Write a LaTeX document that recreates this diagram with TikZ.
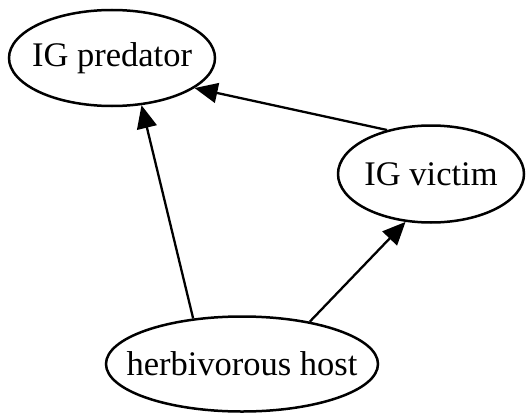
\documentclass[tikz,border=0pt]{standalone}
\usepackage{fontspec}
\setmainfont{Liberation Serif}
\usetikzlibrary{shapes.geometric,arrows.meta}
\begin{document}
\begin{tikzpicture}[x=1pt,y=1pt,
  ell/.style={draw,ellipse,line width=2.5pt,inner sep=0pt},
  lbl/.style={inner sep=0pt,font=\fontsize{34.5}{38}\selectfont},
  conn/.style={line width=2.3pt,-{Triangle[length=23pt,width=20pt]}}]
\useasboundingbox (0,0) rectangle (526,413);
\node[ell,minimum width=206pt,minimum height=96pt] (pred) at (112,355) {};
\node[ell,minimum width=186pt,minimum height=97pt] (vict) at (431,239) {};
\node[ell,minimum width=272pt,minimum height=95pt] (host) at (242,49) {};
\node[lbl] (predt) at (pred) {IG predator};
\node[lbl] (victt) at (vict) {IG victim};
\node[lbl] (hostt) at (host) {herbivorous host};
\draw[conn] (host.137) -- (pred.-58);
\draw[conn] (host.32) -- (vict.-118);
\draw[conn] (vict.135) -- (pred.-20);
\end{tikzpicture}
\end{document}
